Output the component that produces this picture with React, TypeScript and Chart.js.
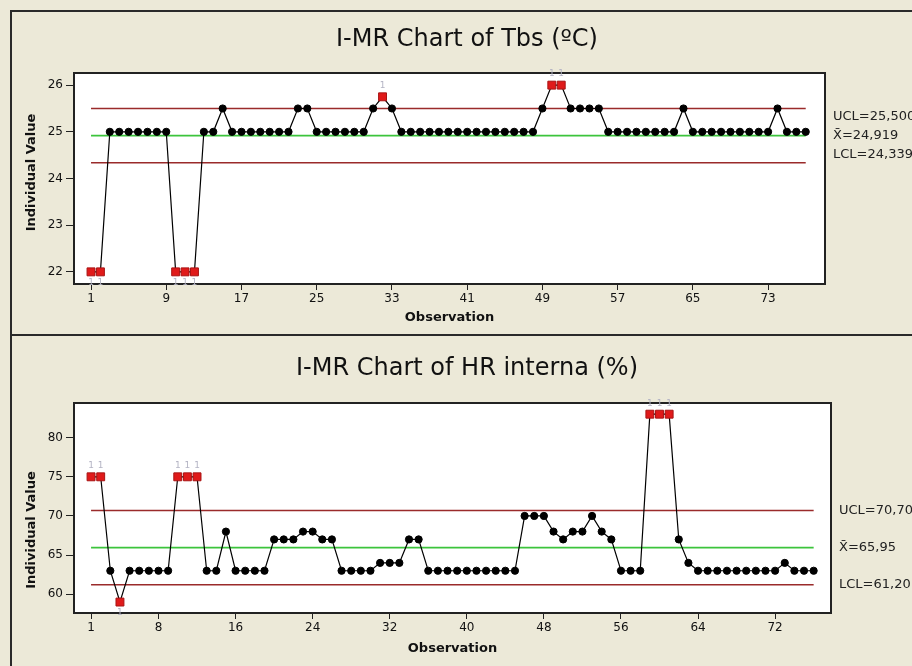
import React, { useEffect, useRef } from "react";
import { Chart, registerables } from "chart.js";

Chart.register(...registerables);

// ---------- Data ----------
const tbsTitle = "I-MR Chart of Tbs (ºC)";
const tbsValues = [
  22, 22,
  25, 25, 25, 25, 25, 25, 25,
  22, 22, 22,
  25, 25, 25.5,
  25, 25, 25, 25, 25, 25, 25,
  25.5, 25.5,
  25, 25, 25, 25, 25, 25,
  25.5, 25.75, 25.5,
  25, 25, 25, 25, 25, 25, 25, 25, 25, 25, 25, 25, 25, 25, 25,
  25.5,
  26, 26,
  25.5, 25.5, 25.5, 25.5,
  25, 25, 25, 25, 25, 25, 25, 25,
  25.5,
  25, 25, 25, 25, 25, 25, 25, 25, 25,
  25.5,
  25, 25, 25,
];
const tbsLimits = [25.5, 24.919, 24.339]; // UCL, mean, LCL
const tbsLimitLabels = ["UCL=25,500", "X\u0304=24,919", "LCL=24,339"];
const tbsXTicks = [1, 9, 17, 25, 33, 41, 49, 57, 65, 73];
const tbsYTicks = [22, 23, 24, 25, 26];

const hrTitle = "I-MR Chart of HR interna (%)";
const hrValues = [
  75, 75, 63, 59,
  63, 63, 63, 63, 63,
  75, 75, 75,
  63, 63, 68,
  63, 63, 63, 63,
  67, 67, 67,
  68, 68, 67, 67,
  63, 63, 63, 63,
  64, 64, 64,
  67, 67,
  63, 63, 63, 63, 63, 63, 63, 63, 63, 63,
  70, 70, 70,
  68, 67, 68, 68, 70, 68, 67,
  63, 63, 63,
  83, 83, 83,
  67, 64,
  63, 63, 63, 63, 63, 63, 63, 63, 63,
  64,
  63, 63, 63,
];
const hrLimits = [70.7, 65.95, 61.2];
const hrLimitLabels = ["UCL=70,70", "X\u0304=65,95", "LCL=61,20"];
const hrXTicks = [1, 8, 16, 24, 32, 40, 48, 56, 64, 72];
const hrYTicks = [60, 65, 70, 75, 80];

const xAxisTitle = "Observation";
const yAxisTitle = "Individual Value";

// ---------- Styling ----------
const BG = "#ECE9D8";
const FONT = "'DejaVu Sans', Verdana, sans-serif";

type PanelCfg = {
  title: string;
  values: number[];
  limits: number[];
  limitLabels: string[];
  xTicks: number[];
  yTicks: number[];
  xMin: number;
  xMax: number;
  yMin: number;
  yMax: number;
  height: number;
  pad: { left: number; right: number; top: number; bottom: number };
  xAxisHeight: number;
  titleY: number;
  labelGapMax: number;
  yTitleShift: number;
  isTop: boolean;
};

function makeChart(canvas: HTMLCanvasElement, p: PanelCfg) {
  const [ucl, mean, lcl] = p.limits;
  const n = p.values.length;
  const flagged = p.values.map((v) => v > ucl || v < lcl);
  const points = p.values.map((v, i) => ({ x: i + 1, y: v }));
  const lineData = (y: number) => [
    { x: 1, y },
    { x: n, y },
  ];

  const panelPlugin = {
    id: "panel" + (p.isTop ? "Top" : "Bottom"),
    beforeDraw(chart: any) {
      const ctx = chart.ctx as CanvasRenderingContext2D;
      const W = chart.width;
      const H = chart.height;
      const a = chart.chartArea;
      ctx.save();
      ctx.fillStyle = BG;
      ctx.fillRect(0, 0, W, H);
      ctx.fillStyle = "#ffffff";
      ctx.fillRect(a.left, a.top, a.right - a.left, a.bottom - a.top);
      ctx.strokeStyle = "#2a2a2a";
      ctx.lineWidth = 2;
      ctx.beginPath();
      if (p.isTop) {
        ctx.moveTo(11, H);
        ctx.lineTo(11, 11);
        ctx.lineTo(W, 11);
        ctx.moveTo(11, H - 1);
        ctx.lineTo(W, H - 1);
      } else {
        ctx.moveTo(11, 0);
        ctx.lineTo(11, H);
      }
      ctx.stroke();
      ctx.restore();
    },
    afterDraw(chart: any) {
      const ctx = chart.ctx as CanvasRenderingContext2D;
      const a = chart.chartArea;
      const xs = chart.scales.x;
      const ys = chart.scales.y;
      ctx.save();
      // frame
      ctx.strokeStyle = "#222";
      ctx.lineWidth = 2;
      ctx.strokeRect(a.left, a.top, a.right - a.left, a.bottom - a.top);
      // title
      ctx.fillStyle = "#111";
      ctx.font = `24px ${FONT}`;
      ctx.textAlign = "center";
      ctx.textBaseline = "middle";
      ctx.fillText(p.title, 467, p.titleY);
      // y axis title
      ctx.save();
      ctx.font = `bold 13px ${FONT}`;
      ctx.translate(32, (a.top + a.bottom) / 2 + p.yTitleShift);
      ctx.rotate(-Math.PI / 2);
      ctx.fillText(yAxisTitle, 0, 0);
      ctx.restore();
      // limit labels
      ctx.font = `13px ${FONT}`;
      ctx.textAlign = "left";
      ctx.fillStyle = "#222";
      const yU = ys.getPixelForValue(ucl);
      const yM = ys.getPixelForValue(mean);
      const yL = ys.getPixelForValue(lcl);
      const gU = Math.min(yM - yU, p.labelGapMax);
      const gL = Math.min(yL - yM, p.labelGapMax);
      const lx = a.right + 8;
      ctx.fillText(p.limitLabels[0], lx, yM - gU);
      ctx.fillText(p.limitLabels[1], lx, yM);
      ctx.fillText(p.limitLabels[2], lx, yM + gL);
      // test-failure markers
      ctx.font = `9px ${FONT}`;
      ctx.textAlign = "center";
      ctx.fillStyle = "#b4b4c4";
      p.values.forEach((v, i) => {
        if (!flagged[i]) return;
        const px = xs.getPixelForValue(i + 1);
        const py = ys.getPixelForValue(v);
        ctx.fillText("1", px, v > ucl ? py - 11 : py + 11);
      });
      ctx.restore();
    },
  };

  return new Chart(canvas, {
    type: "line",
    data: {
      datasets: [
        {
          data: points,
          borderColor: "#000",
          borderWidth: 1.2,
          tension: 0,
          pointStyle: (c: any) => (flagged[c.dataIndex] ? "rect" : "circle"),
          pointRadius: (c: any) => (flagged[c.dataIndex] ? 5.6 : 3.6),
          pointBackgroundColor: (c: any) => (flagged[c.dataIndex] ? "#e01a1a" : "#000"),
          pointBorderColor: (c: any) => (flagged[c.dataIndex] ? "#a81414" : "#000"),
          pointBorderWidth: 1,
          order: 0,
        } as any,
        {
          data: lineData(ucl),
          borderColor: "#9a2b2b",
          borderWidth: 1.6,
          pointRadius: 0,
          order: 2,
        },
        {
          data: lineData(mean),
          borderColor: "#3cc43c",
          borderWidth: 1.6,
          pointRadius: 0,
          order: 2,
        },
        {
          data: lineData(lcl),
          borderColor: "#9a2b2b",
          borderWidth: 1.6,
          pointRadius: 0,
          order: 2,
        },
      ],
    },
    options: {
      animation: false,
      responsive: false,
      devicePixelRatio: 1,
      events: [],
      layout: { padding: p.pad },
      plugins: {
        legend: { display: false },
        tooltip: { enabled: false },
        title: { display: false },
      },
      scales: {
        x: {
          type: "linear",
          min: p.xMin,
          max: p.xMax,
          afterBuildTicks: (s: any) => {
            s.ticks = p.xTicks.map((v) => ({ value: v }));
          },
          afterFit: (s: any) => {
            s.height = p.xAxisHeight;
          },
          ticks: {
            color: "#111",
            font: { family: FONT, size: 12 },
            padding: 2,
            maxRotation: 0,
            autoSkip: false,
            callback: (v: any) => String(v),
          },
          grid: {
            display: true,
            drawOnChartArea: false,
            drawTicks: true,
            tickLength: 6,
            color: "#222",
            lineWidth: 1,
          },
          border: { display: false },
          title: {
            display: true,
            text: xAxisTitle,
            color: "#111",
            font: { family: FONT, size: 13, weight: "bold" },
          },
        },
        y: {
          type: "linear",
          min: p.yMin,
          max: p.yMax,
          afterBuildTicks: (s: any) => {
            s.ticks = p.yTicks.map((v) => ({ value: v }));
          },
          afterFit: (s: any) => {
            s.width = 74 - p.pad.left;
          },
          ticks: {
            color: "#111",
            font: { family: FONT, size: 12 },
            padding: 3,
            callback: (v: any) => String(v),
          },
          grid: {
            display: true,
            drawOnChartArea: false,
            drawTicks: true,
            tickLength: 8,
            color: "#222",
            lineWidth: 1,
          },
          border: { display: false },
          title: { display: false },
        },
      },
    } as any,
    plugins: [panelPlugin],
  });
}

const topCfg: PanelCfg = {
  title: tbsTitle,
  values: tbsValues,
  limits: tbsLimits,
  limitLabels: tbsLimitLabels,
  xTicks: tbsXTicks,
  yTicks: tbsYTicks,
  xMin: -0.81,
  xMax: 79.05,
  yMin: 21.74,
  yMax: 26.26,
  height: 336,
  pad: { left: 20, right: 87, top: 73, bottom: 7 },
  xAxisHeight: 45,
  titleY: 40,
  labelGapMax: 19,
  yTitleShift: -6,
  isTop: true,
};

const bottomCfg: PanelCfg = {
  title: hrTitle,
  values: hrValues,
  limits: hrLimits,
  limitLabels: hrLimitLabels,
  xTicks: hrXTicks,
  yTicks: hrYTicks,
  xMin: -0.77,
  xMax: 77.8,
  yMin: 57.6,
  yMax: 84.43,
  height: 330,
  pad: { left: 20, right: 81, top: 67, bottom: 6 },
  xAxisHeight: 47,
  titleY: 33,
  labelGapMax: 100,
  yTitleShift: 22,
  isTop: false,
};

function Panel({ cfg }: { cfg: PanelCfg }) {
  const ref = useRef<HTMLCanvasElement | null>(null);
  useEffect(() => {
    if (!ref.current) return;
    const c = makeChart(ref.current, cfg);
    return () => c.destroy();
  }, [cfg]);
  return (
    <canvas
      ref={ref}
      width={912}
      height={cfg.height}
      style={{ display: "block", width: 912, height: cfg.height }}
    />
  );
}

export default function App() {
  useEffect(() => {
    document.body.style.margin = "0";
    document.body.style.background = BG;
  }, []);
  return (
    <div style={{ width: 912, height: 666, overflow: "hidden", background: BG }}>
      <Panel cfg={topCfg} />
      <Panel cfg={bottomCfg} />
    </div>
  );
}
